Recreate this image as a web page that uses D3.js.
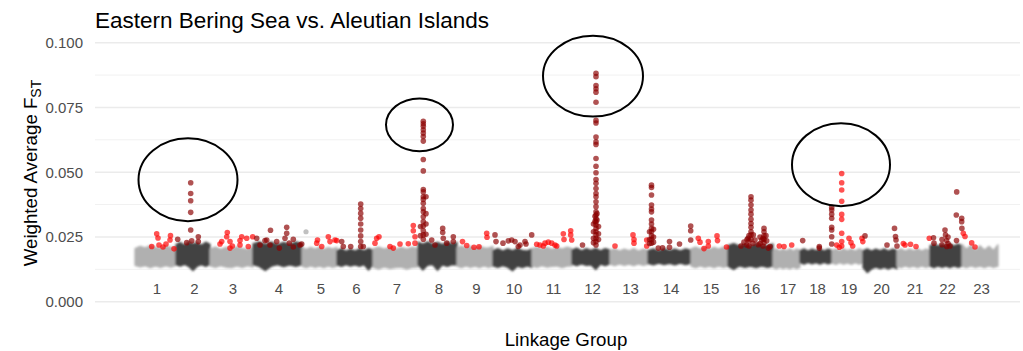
<!DOCTYPE html>
<html><head><meta charset="utf-8">
<script src="https://cdn.jsdelivr.net/npm/d3@7"></script>
<style>
body{margin:0;background:#fff}
svg{display:block}
text{font-family:"Liberation Sans",Arial,Helvetica,sans-serif}
</style>
</head><body>
<svg id="chart" width="1023" height="351"></svg>
<script>
// ---- data ----
const groups = ["1","2","3","4","5","6","7","8","9","10","11","12","13","14","15","16","17","18","19","20","21","22","23"];
const groupLengths = [41,34,43,49,35,36,45,39,36,39,40,38,38,43,37,45,27,32,31,34,33,32,36];

// upper / lower envelope of the dense background band, 9 samples across each group
const bandTop = [
  [0.0205,0.0214,0.0208,0.0217,0.0210,0.0206,0.0216,0.0209,0.0212],
  [0.0221,0.0229,0.0219,0.0231,0.0223,0.0228,0.0218,0.0230,0.0222],
  [0.0203,0.0211,0.0202,0.0210,0.0204,0.0212,0.0205,0.0202,0.0210],
  [0.0223,0.0231,0.0222,0.0230,0.0221,0.0229,0.0222,0.0231,0.0224],
  [0.0209,0.0202,0.0210,0.0203,0.0211,0.0202,0.0209,0.0204,0.0210],
  [0.0197,0.0205,0.0195,0.0203,0.0196,0.0204,0.0197,0.0205,0.0199],
  [0.0204,0.0211,0.0203,0.0210,0.0202,0.0210,0.0203,0.0211,0.0205],
  [0.0230,0.0223,0.0231,0.0222,0.0229,0.0221,0.0230,0.0223,0.0229],
  [0.0208,0.0215,0.0207,0.0214,0.0206,0.0215,0.0208,0.0207,0.0214],
  [0.0197,0.0205,0.0196,0.0204,0.0197,0.0206,0.0198,0.0196,0.0204],
  [0.0204,0.0211,0.0203,0.0210,0.0202,0.0210,0.0203,0.0211,0.0205],
  [0.0199,0.0207,0.0197,0.0205,0.0198,0.0206,0.0197,0.0205,0.0199],
  [0.0197,0.0204,0.0196,0.0203,0.0197,0.0205,0.0196,0.0203,0.0198],
  [0.0197,0.0204,0.0196,0.0205,0.0197,0.0203,0.0196,0.0204,0.0198],
  [0.0204,0.0211,0.0203,0.0210,0.0202,0.0210,0.0203,0.0211,0.0205],
  [0.0217,0.0224,0.0216,0.0223,0.0215,0.0224,0.0217,0.0216,0.0223],
  [0.0197,0.0204,0.0196,0.0203,0.0197,0.0204,0.0196,0.0203,0.0198],
  [0.0197,0.0204,0.0196,0.0203,0.0197,0.0204,0.0196,0.0203,0.0198],
  [0.0197,0.0203,0.0196,0.0204,0.0197,0.0203,0.0196,0.0204,0.0198],
  [0.0197,0.0204,0.0196,0.0203,0.0197,0.0204,0.0196,0.0203,0.0198],
  [0.0197,0.0204,0.0196,0.0203,0.0197,0.0204,0.0196,0.0203,0.0198],
  [0.0216,0.0223,0.0215,0.0222,0.0216,0.0224,0.0215,0.0223,0.0217],
  [0.0221,0.0203,0.0218,0.0198,0.0216,0.0200,0.0214,0.0198,0.0220]
];
const bandBottom = [
  [0.0140,0.0134,0.0139,0.0131,0.0138,0.0132,0.0139,0.0133,0.0140],
  [0.0143,0.0137,0.0144,0.0136,0.0120,0.0137,0.0143,0.0136,0.0144],
  [0.0138,0.0132,0.0139,0.0133,0.0131,0.0138,0.0132,0.0139,0.0133],
  [0.0143,0.0136,0.0120,0.0137,0.0143,0.0135,0.0142,0.0136,0.0143],
  [0.0137,0.0131,0.0138,0.0132,0.0137,0.0131,0.0138,0.0132,0.0137],
  [0.0142,0.0136,0.0143,0.0137,0.0142,0.0136,0.0143,0.0122,0.0142],
  [0.0133,0.0126,0.0134,0.0128,0.0131,0.0133,0.0126,0.0132,0.0134],
  [0.0142,0.0122,0.0141,0.0143,0.0121,0.0142,0.0136,0.0143,0.0141],
  [0.0137,0.0131,0.0138,0.0132,0.0137,0.0131,0.0138,0.0132,0.0137],
  [0.0138,0.0132,0.0139,0.0133,0.0119,0.0137,0.0131,0.0138,0.0132],
  [0.0138,0.0132,0.0139,0.0133,0.0136,0.0138,0.0131,0.0137,0.0138],
  [0.0145,0.0139,0.0146,0.0140,0.0142,0.0124,0.0145,0.0139,0.0146],
  [0.0145,0.0139,0.0146,0.0140,0.0145,0.0139,0.0146,0.0140,0.0145],
  [0.0148,0.0142,0.0149,0.0143,0.0148,0.0142,0.0149,0.0143,0.0148],
  [0.0137,0.0131,0.0138,0.0132,0.0137,0.0131,0.0138,0.0132,0.0137],
  [0.0137,0.0124,0.0138,0.0132,0.0137,0.0131,0.0138,0.0132,0.0137],
  [0.0132,0.0126,0.0133,0.0127,0.0132,0.0126,0.0133,0.0127,0.0132],
  [0.0151,0.0145,0.0152,0.0146,0.0151,0.0145,0.0152,0.0146,0.0151],
  [0.0150,0.0144,0.0151,0.0145,0.0150,0.0144,0.0151,0.0145,0.0150],
  [0.0132,0.0112,0.0126,0.0133,0.0127,0.0132,0.0126,0.0133,0.0127],
  [0.0137,0.0131,0.0138,0.0132,0.0137,0.0131,0.0138,0.0132,0.0137],
  [0.0137,0.0131,0.0138,0.0132,0.0137,0.0131,0.0138,0.0132,0.0137],
  [0.0137,0.0131,0.0138,0.0132,0.0137,0.0131,0.0138,0.0132,0.0137]
];

// highlighted windows: [position within linkage group, weighted FST], one list per group
const highlightPoints = [
  /*1*/ [[16.7,.0213],[21.7,.0262],[23,.0246],[24,.0219],[28,.0211],[31,.0223],[35.5,.0255],[35,.0238],[39,.0204]],
  /*2*/ [[1.7,.0241],[10.7,.0228],[14.7,.0459],[14.7,.0418],[14.7,.0390],[14.7,.0345],[14.7,.0277],[15.7,.0235],[22.3,.0251],[22.3,.0232]],
  /*3*/ [[10,.0223],[11.7,.0232],[16.7,.0251],[17.3,.0267],[20,.0232],[20,.0207],[22.3,.0215],[30,.0236],[30,.0219],[31.7,.0251],[36.7,.0245],[38.3,.0213],[42.7,.0251]],
  /*4*/ [[3.7,.0245],[7,.0219],[12,.0236],[13.7,.0238],[17.5,.0276],[17,.0219],[23.7,.0232],[26.3,.0207],[32,.0245],[33.7,.0287],[33.7,.0264],[36.3,.0226],[40.3,.0241],[40.3,.0211],[47,.0219],[48.7,.0223]],
  /*5*/ [[14.7,.0226],[15.5,.0238],[19.7,.0213],[26.3,.0251],[28,.0232],[33,.0238],[34.7,.0236]],
  /*6*/ [[4.7,.0232],[6.3,.0213],[13.7,.0213],[23.7,.0377],[23.7,.0360],[23.7,.0341],[23.7,.0322],[23.7,.0300],[23.7,.0277],[23.7,.0254],[23.7,.0232],[23.7,.0213],[26.3,.0213]],
  /*7*/ [[2,.0226],[3.7,.0245],[6,.0251],[17,.0213],[20.3,.0207],[27,.0223],[35.3,.0224],[40.3,.0294],[40.3,.0274],[42,.0251],[42,.0226]],
  /*8*/ [[5.3,.0697],[5.3,.0687],[5.3,.0677],[5.3,.0664],[5.3,.0651],[5.3,.0638],[5.3,.0620],[5.3,.0549],[5.3,.0505],[5.3,.0433],[5.3,.0424],[5.3,.0405],[5.3,.0395],[5.3,.0380],[5.3,.0360],[5.3,.0347],[5.3,.0328],[5.3,.0309],[5.3,.0292],[5.3,.0274],[5.3,.0258],[5.3,.0241],
         [8,.0405],[8,.0340],[8,.0300],[8,.0260],[2.5,.0290],[2.5,.0255],
         [13.7,.0238],[17,.0219],[24.7,.0283],[24.7,.0267],[25.3,.0245],[28.7,.0226],[35.3,.0251],[35.3,.0232]],
  /*9*/ [[5.5,.0232],[9.7,.0217],[17,.0210],[22,.0212],[29.7,.0264],[30,.0249]],
  /*10*/[[2,.0258],[3,.0232],[10,.0226],[15.3,.0235],[18.7,.0238],[22,.0232],[25.3,.0213],[27,.0219],[32,.0232],[33,.0223],[38.7,.0258]],
  /*11*/[[4.7,.0222],[8,.0219],[11.3,.0215],[13,.0226],[16.3,.0230],[19.7,.0226],[23,.0219],[24.7,.0215],[31.3,.0262],[32,.0240],[38.7,.0274],[38.7,.0258],[39.7,.0238]],
  /*12*/[[10.5,.0219],
         [24,.0882],[24,.0869],[24,.0835],[24,.0822],[24,.0809],[24,.0770],[24,.0700],[24,.0690],[24,.0636],[24,.0617],[24,.0607],[24,.0553],[24,.0523],[24,.0498],[24,.0472],[24,.0457],[24,.0437],[24,.0418],[24,.0405],[24,.0386],[24,.0367],[24,.0347],[24,.0335],[24,.0320],[24,.0309],[24,.0296],[24,.0283],[24,.0270],[24,.0258],[24,.0245],[24,.0232],[24,.0219],
         [21.5,.0300],[21.5,.0270],[21.5,.0245],[21.5,.0228],[26.5,.0290],[26.5,.0262],[26.5,.0240],[23,.0330],[23,.0310],[25,.0340],[25,.0315]],
  /*13*/[[5,.0215],[23,.0258],[24,.0240],[24,.0226],[36.7,.0238],[36.7,.0215]],
  /*14*/[[3.5,.0450],[3.5,.0441],[3.5,.0412],[3.5,.0373],[3.5,.0358],[3.5,.0347],[3.5,.0315],[3.5,.0300],[3.5,.0283],[3.5,.0270],[3.5,.0254],[3.5,.0241],[3.5,.0226],
         [1.5,.0270],[1.5,.0240],[1.5,.0225],[5.5,.0280],[5.5,.0250],[5.5,.0230],
         [10.3,.0207],[14.5,.0208],[21.5,.0232],[21.5,.0210],[31.5,.0223],[42.7,.0292],[42.7,.0274],[42.7,.0238]],
  /*15*/[[7.3,.0245],[9,.0230],[13,.0205],[17.3,.0232],[17.3,.0215],[26,.0254],[26.5,.0236],[35.5,.0211]],
  /*16*/[[23,.0405],[23,.0392],[23,.0373],[23,.0354],[23,.0338],[23,.0318],[23,.0302],[23,.0287],[23,.0270],[23,.0258],[23,.0241],
         [36,.0283],[36,.0270],[36,.0254],[36,.0241],[36,.0228],
         [18.7,.0219],[16,.0230],[20,.0245],[25.3,.0258],[27,.0238],[30.3,.0220],[33.7,.0238],[38.7,.0235],[40.3,.0207],[42,.0213],[13,.0215],
         [19,.0240],[21,.0255],[21,.0235],[21,.0215],[25,.0225],[32,.0250],[32,.0225],[35,.0245],[35,.0215],[38,.0255]],
  /*17*/[[6.3,.0215],[11,.0213],[18.7,.0219]],
  /*18*/[[2.7,.0236],[19.3,.0207],[19.3,.0213],
         [31.7,.0364],[31.7,.0354],[31.7,.0338],[31.7,.0322],[31.7,.0287],[31.7,.0277],[31.7,.0251],[31.7,.0223]],
  /*19*/[[9.7,.0495],[9.7,.0459],[9.7,.0431],[9.7,.0388],[9.7,.0337],[9.7,.0318],[9.7,.0264],[9.7,.0232],[9.7,.0215],
         [4.7,.0219],[7.3,.0210],[17,.0245],[19,.0228],[20.7,.0215],[30,.0245],[30.8,.0232]],
  /*20*/[[2,.0254],[24,.0219],[31.5,.0283],[32.5,.0252],[33,.0238],[34,.0215]],
  /*21*/[[6.3,.0225],[8,.0219],[13.5,.0222],[19,.0213],[32.3,.0245]],
  /*22*/[[3.5,.0247],[4,.0226],[12,.0240],[12,.0220],[15,.0277],[15.5,.0258],[16.5,.0236],[16.7,.0213],[18,.0250],[18,.0225],[20,.0215],
         [26.7,.0424],[26.3,.0335],[26.5,.0236],[31.7,.0322],[31.7,.0309],[31.9,.0283]],
  /*23*/[[1.3,.0264],[3,.0252],[9.7,.0227],[13,.0211]]
];
// a background window that sits above the band without being highlighted: [group, position, FST]
const greyOutliers = [[5, 4, 0.0270]];

const yTicks = [0, 0.025, 0.05, 0.075, 0.1];
const yMinorTicks = [0.0125, 0.0375, 0.0625, 0.0875];

// annotation ellipses: [group, position, FST centre, half-width (position units), half-height (FST units)]
const annotations = [
  [2, 12, 0.0471, 49.5, 0.0160],
  [8, 1.5, 0.0683, 33.5, 0.0102],
  [12, 21, 0.0871, 50, 0.0156],
  [19, 9, 0.0529, 49, 0.0160]
];

const titleText = "Eastern Bering Sea vs. Aleutian Islands";
const xTitle = "Linkage Group";

// ---- drawing ----
const svg = d3.select("#chart");
const offsets = [0, ...d3.cumsum(groupLengths)];
const total = offsets[offsets.length - 1];

const x = d3.scaleLinear().domain([0, total]).range([135, 998]);
const y = d3.scaleLinear().domain([0, 0.1]).range([301.7, 42.7]);
const panelLeft = 95, panelRight = 1020;

const colLight = "#b0b0b0", colDark = "#434343";
const hlOdd = "#ff0000", hlEven = "#8b0000";

// grid
svg.append("g").selectAll("line").data(yMinorTicks).join("line")
  .attr("x1", panelLeft).attr("x2", panelRight)
  .attr("y1", d => y(d)).attr("y2", d => y(d))
  .attr("stroke", "#f1f1f1").attr("stroke-width", 1);
svg.append("g").selectAll("line").data(yTicks).join("line")
  .attr("x1", panelLeft).attr("x2", panelRight)
  .attr("y1", d => y(d)).attr("y2", d => y(d))
  .attr("stroke", "#ebebeb").attr("stroke-width", 1.6);

// band
const defs = svg.append("defs");
defs.append("filter").attr("id", "soft").attr("x", "-5%").attr("y", "-50%").attr("width", "110%").attr("height", "200%")
  .append("feGaussianBlur").attr("stdDeviation", 0.8);

const area = d3.area()
  .x(d => x(d.p)).y0(d => y(d.lo)).y1(d => y(d.hi));
const bandG = svg.append("g").attr("filter", "url(#soft)");
groups.forEach((g, i) => {
  const n = bandTop[i].length;
  const pts = bandTop[i].map((hi, k) => ({
    p: offsets[i] + groupLengths[i] * k / (n - 1),
    hi: hi, lo: bandBottom[i][k]
  }));
  bandG.append("path").datum(pts).attr("d", area)
    .attr("fill", i % 2 === 0 ? colLight : colDark)
    .attr("stroke", i % 2 === 0 ? colLight : colDark)
    .attr("stroke-width", 1.2).attr("stroke-linejoin", "round");
});

// grey outliers
svg.append("g").selectAll("circle").data(greyOutliers).join("circle")
  .attr("cx", d => x(offsets[d[0] - 1] + d[1]))
  .attr("cy", d => y(d[2])).attr("r", 2.6)
  .attr("fill", d => (d[0] - 1) % 2 === 0 ? colLight : colDark).attr("opacity", 0.8);

// highlighted points
const flat = [];
highlightPoints.forEach((arr, i) => arr.forEach(p => flat.push({g: i, p: p[0], v: p[1]})));
svg.append("g").selectAll("circle").data(flat).join("circle")
  .attr("cx", d => x(offsets[d.g] + d.p))
  .attr("cy", d => y(d.v))
  .attr("r", 2.8)
  .attr("fill", d => d.g % 2 === 0 ? hlOdd : hlEven)
  .attr("fill-opacity", 0.68);

// annotation ellipses
svg.append("g").selectAll("ellipse").data(annotations).join("ellipse")
  .attr("cx", d => x(offsets[d[0] - 1] + d[1]))
  .attr("cy", d => y(d[2]))
  .attr("rx", d => x(d[3]) - x(0))
  .attr("ry", d => y(0) - y(d[4]))
  .attr("fill", "none").attr("stroke", "#000").attr("stroke-width", 2);

// y tick labels
svg.append("g").selectAll("text").data(yTicks).join("text")
  .attr("x", 83).attr("y", d => y(d)).attr("dy", "0.36em")
  .attr("text-anchor", "end").attr("font-size", 15).attr("fill", "#4d4d4d")
  .text(d3.format(".3f"));

// x tick labels
svg.append("g").selectAll("text").data(groups).join("text")
  .attr("x", (d, i) => x(offsets[i] + groupLengths[i] / 2) + 1.5)
  .attr("y", 293.5)
  .attr("text-anchor", "middle").attr("font-size", 15).attr("fill", "#4d4d4d")
  .text(d => d);

// titles
svg.append("text").attr("x", 95).attr("y", 28).attr("font-size", 22.5).attr("fill", "#000").text(titleText);
svg.append("text").attr("x", 566).attr("y", 346).attr("text-anchor", "middle").attr("font-size", 18.7).attr("fill", "#000").text(xTitle);
const yl = svg.append("text").attr("transform", "translate(37,173) rotate(-90)")
  .attr("text-anchor", "middle").attr("font-size", 18.7).attr("fill", "#000");
yl.append("tspan").text("Weighted Average F");
yl.append("tspan").attr("font-size", 14).attr("dy", 4).text("ST");
</script>
</body></html>
